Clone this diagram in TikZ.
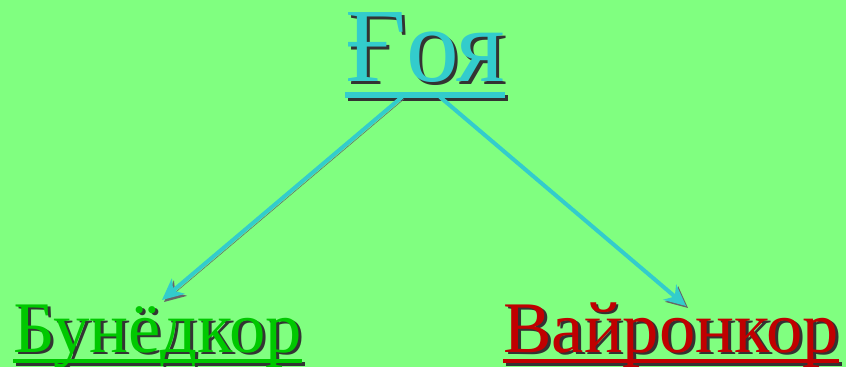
\documentclass[tikz,border=0pt]{standalone}
\usepackage{fontspec}
\setmainfont{Liberation Serif}
\usetikzlibrary{arrows.meta}

\definecolor{bgGreen}{RGB}{128,255,128}
\definecolor{ideaCyan}{RGB}{51,204,204}
\definecolor{goodGreen}{RGB}{0,200,0}
\definecolor{badRed}{RGB}{192,0,0}

% underlined word, with a dark drop shadow
\newcommand{\ulword}[1]{\setbox0\hbox{#1}\rlap{\rule[-0.15em]{\wd0}{0.055em}}\box0}
\newcommand{\shadword}[2]{\rlap{\hspace{2.2pt}\raisebox{-2.2pt}{\color{black!80}\ulword{#2}}}{\color{#1}\ulword{#2}}}

\tikzset{
  word/.style={inner sep=0pt, anchor=base west},
  arrowline/.style={ideaCyan, line width=3pt, -{Stealth[length=16pt, width=15pt, inset=5pt]},
    preaction={draw=black!60, transform canvas={shift={(1.5pt,-1.5pt)}}}},
}

\begin{document}
\begin{tikzpicture}[x=0.75pt,y=-0.75pt]
        \useasboundingbox[fill=bgGreen] (0,0) rectangle (846,367);

        \node[word, font=\fontsize{79}{79}\selectfont] (idea) at (345,82) {\shadword{ideaCyan}{Ғоя}};
        \node[word, font=\fontsize{54.5}{54.5}\selectfont] (good) at (13,352) {\shadword{goodGreen}{Бунёдкор}};
        \node[word, font=\fontsize{54.5}{54.5}\selectfont] (bad) at (503,352) {\shadword{badRed}{Вайронкор}};

        \coordinate (ideaL) at (402,97);
        \coordinate (ideaR) at (440,97);
        \coordinate (goodTip) at (162,300);
        \coordinate (badTip) at (686,306);

        \draw[arrowline] (ideaL) -- (goodTip);
        \draw[arrowline] (ideaR) -- (badTip);
\end{tikzpicture}
\end{document}
